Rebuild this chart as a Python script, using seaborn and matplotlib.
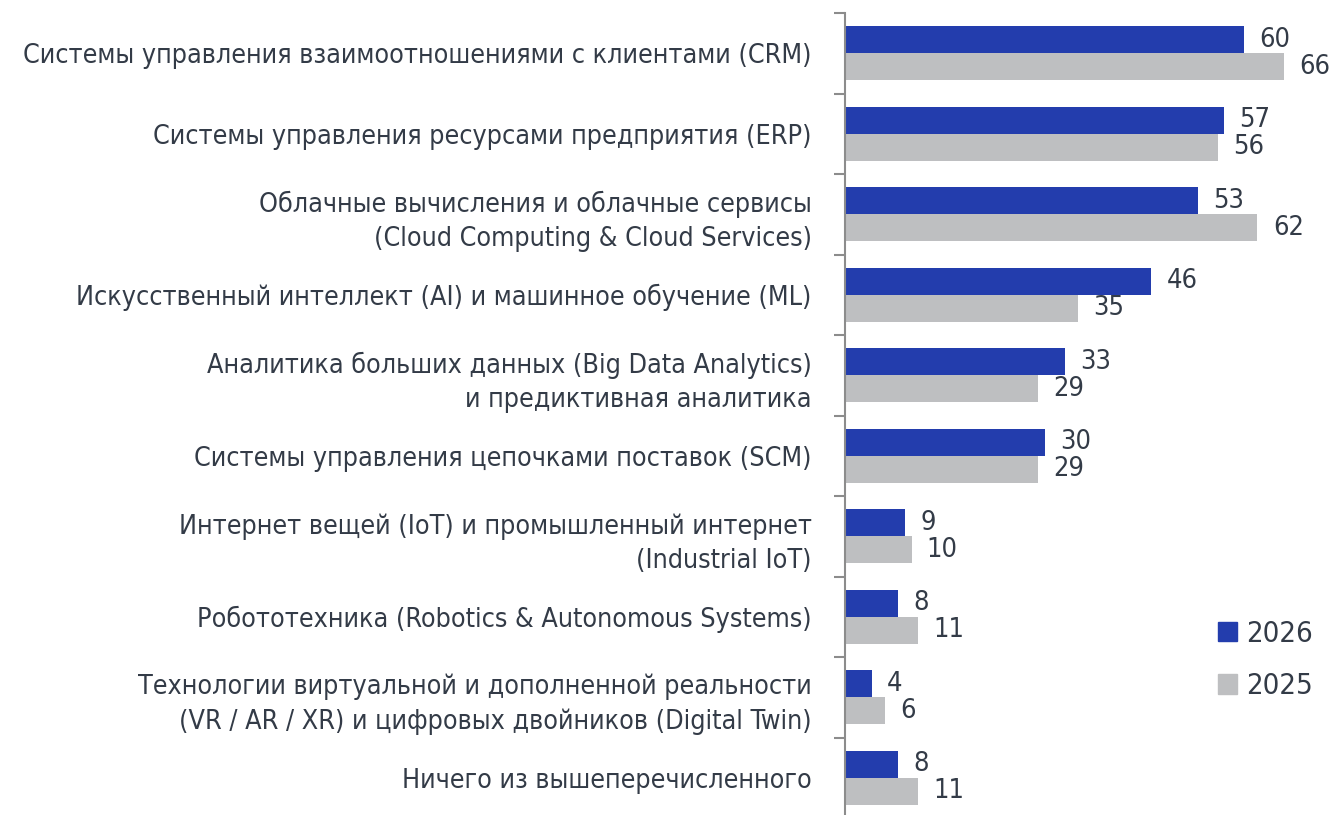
import matplotlib.pyplot as plt
import matplotlib.patches as mpatches
import numpy as np
import seaborn as sns
import pandas as pd

# data
categories = [
    'Системы управления взаимоотношениями с клиентами (CRM)',
    'Системы управления ресурсами предприятия (ERP)',
    'Облачные вычисления и облачные сервисы\n(Cloud Computing & Cloud Services)',
    'Искусственный интеллект (AI) и машинное обучение (ML)',
    'Аналитика больших данных (Big Data Analytics)\nи предиктивная аналитика',
    'Системы управления цепочками поставок (SCM)',
    'Интернет вещей (IoT) и промышленный интернет\n(Industrial IoT)',
    'Робототехника (Robotics & Autonomous Systems)',
    'Технологии виртуальной и дополненной реальности\n(VR / AR / XR) и цифровых двойников (Digital Twin)',
    'Ничего из вышеперечисленного',
]
values_2026 = [60, 57, 53, 46, 33, 30, 9, 8, 4, 8]
values_2025 = [66, 56, 62, 35, 29, 29, 10, 11, 6, 11]
years = ['2026', '2025']

blue = '#233DAD'
grey = '#BEBFC1'
txt = '#333B47'

df = pd.DataFrame({
    'cat': categories * 2,
    'val': values_2026 + values_2025,
    'year': ['2026'] * len(categories) + ['2025'] * len(categories),
})

sns.set_style('white')
plt.rcParams['font.family'] = ['DejaVu Sans']
plt.rcParams['font.stretch'] = 'condensed'

fig = plt.figure(figsize=(13.32, 8.15), dpi=100)
ax = fig.add_axes([845 / 1332, -3 / 815, 1 - 845 / 1332, 805 / 815])

sns.barplot(data=df, y='cat', x='val', hue='year', hue_order=years,
            palette=[blue, grey], orient='h', width=0.67, ax=ax,
            legend=False, saturation=1, errorbar=None, linewidth=0)

for cont in ax.containers:
    ax.bar_label(cont, padding=11, fontsize=19.5, color=txt)

ax.set_xlim(0, 73.2)
ax.set_ylim(len(categories) - 0.5, -0.5)
ax.set_xlabel('')
ax.set_ylabel('')
ax.set_xticks([])

for s in ['top', 'right', 'bottom']:
    ax.spines[s].set_visible(False)
ax.spines['left'].set_color('#8C8C8C')
ax.spines['left'].set_linewidth(1.5)

ax.set_yticks(np.arange(-0.5, len(categories)), minor=True)
ax.tick_params(axis='y', which='minor', length=8, width=1.5, color='#8C8C8C', left=True)
ax.tick_params(axis='y', which='major', length=0, pad=24, labelsize=19.3, labelcolor=txt)
for lab in ax.get_yticklabels():
    lab.set_linespacing(1.4)

handles = [mpatches.Patch(color=blue, label='2026'), mpatches.Patch(color=grey, label='2025')]
fig.legend(handles=handles, loc='center left', bbox_to_anchor=(1192 / 1332, 1 - 660 / 815),
           frameon=False, fontsize=21, labelcolor=txt, handlelength=0.65, handleheight=0.65,
           handletextpad=0.3, labelspacing=0.85)

plt.savefig('out.png', dpi=100)
